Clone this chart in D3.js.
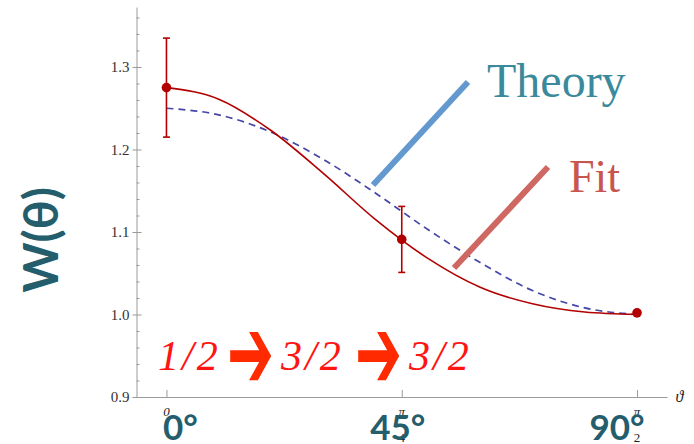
<!DOCTYPE html>
<html>
<head>
<meta charset="utf-8">
<script src="https://cdn.jsdelivr.net/npm/d3@7"></script>
<style>
  body { margin: 0; background: #fff; }
  svg { display: block; }
</style>
</head>
<body>
<svg id="chart" width="694" height="444"></svg>
<script>
// measured points (angle in degrees, W and error)
const pointAngles = [0, 45, 90];
const pointValues = [1.275, 1.091, 1.002];
const pointErrors = [0.06, 0.04, 0];

// curves, every 10 degrees
const curveAngles = [0, 10, 20, 30, 40, 50, 60, 70, 80, 90];
const fitValues = [1.275, 1.261, 1.223, 1.171, 1.115, 1.068, 1.033, 1.013, 1.003, 1.0];
const theoryValues = [1.25, 1.242, 1.221, 1.188, 1.147, 1.103, 1.063, 1.029, 1.008, 1.0];

const yMajor = [0.9, 1.0, 1.1, 1.2, 1.3];
const yMinor = d3.range(0.92, 1.37, 0.02).map(v => +v.toFixed(2)).filter(v => !yMajor.includes(v));
const xTicks = [0, 45, 90];
const degLabels = ['0°', '45°', '90°'];
const piLabels = [['0', ''], ['π', '4'], ['π', '2']];
const spins = ['1/2', '3/2', '3/2'];

const svg = d3.select('#chart');

const x = d3.scaleLinear().domain([-5.73, 95.73]).range([136.5, 667]);
const y = d3.scaleLinear().domain([0.9, 1.3727]).range([397, 7]);

const axisColor = '#9a9a9a';

// y axis
const yAx = svg.append('g').attr('transform', 'translate(136.5,0)');
yAx.call(d3.axisLeft(y).tickValues(yMinor).tickSize(-3).tickSizeOuter(0).tickFormat(''));
const yMaj = svg.append('g').attr('transform', 'translate(136.5,0)')
  .call(d3.axisLeft(y).tickValues(yMajor).tickSize(-5).tickSizeOuter(0).tickPadding(7).tickFormat(d3.format('.1f')));
yMaj.selectAll('.tick line').attr('x1', -4);
yMaj.selectAll('.domain').remove();
yMaj.selectAll('text')
  .attr('font-family', 'Liberation Serif, serif').attr('font-size', 15).attr('fill', '#333');

// x axis
const xAx = svg.append('g').attr('transform', 'translate(0,397)')
  .call(d3.axisBottom(x).tickValues(xTicks).tickSize(-7).tickSizeOuter(0).tickFormat(''));

svg.selectAll('.domain, .tick line').attr('stroke', axisColor).attr('stroke-width', 1);

// small pi tick labels
const piG = svg.append('g')
  .attr('font-family', 'Liberation Serif, serif').attr('font-style', 'italic')
  .attr('font-size', 13).attr('fill', '#222').attr('text-anchor', 'middle');
piG.selectAll('text.num').data(xTicks).join('text')
  .attr('x', d => x(d)).attr('y', 416)
  .text((d, i) => piLabels[i][0]);
piG.selectAll('text.den').data(xTicks).join('text')
  .attr('x', d => x(d)).attr('y', 442).attr('font-style', 'normal')
  .text((d, i) => piLabels[i][1]);

svg.append('text')
  .attr('x', x(94.5) + 15).attr('y', 402)
  .attr('font-family', 'Liberation Serif, serif').attr('font-style', 'italic')
  .attr('font-size', 16).attr('fill', '#222')
  .text('ϑ');

// curves
const line = d3.line().x((d, i) => x(curveAngles[i])).y(d => y(d)).curve(d3.curveMonotoneX);

svg.append('path')
  .attr('d', line(theoryValues))
  .attr('fill', 'none').attr('stroke', '#4646a6').attr('stroke-width', 1.7)
  .attr('stroke-dasharray', '7,5');

svg.append('path')
  .attr('d', line(fitValues))
  .attr('fill', 'none').attr('stroke', '#b20000').attr('stroke-width', 1.6);

// error bars
const eb = svg.append('g').attr('stroke', '#b20000').attr('stroke-width', 1.6);
pointAngles.forEach((a, i) => {
  if (!pointErrors[i]) return;
  const lo = y(pointValues[i] - pointErrors[i]), hi = y(pointValues[i] + pointErrors[i]);
  eb.append('line').attr('x1', x(a)).attr('x2', x(a)).attr('y1', lo).attr('y2', hi);
  eb.append('line').attr('x1', x(a) - 3.5).attr('x2', x(a) + 3.5).attr('y1', lo).attr('y2', lo);
  eb.append('line').attr('x1', x(a) - 3.5).attr('x2', x(a) + 3.5).attr('y1', hi).attr('y2', hi);
});

svg.selectAll('circle.pt').data(pointValues).join('circle')
  .attr('cx', (d, i) => x(pointAngles[i])).attr('cy', d => y(d))
  .attr('r', 4.8).attr('fill', '#b20000');

// annotation pointers and labels
svg.append('line').attr('x1', 373).attr('y1', 185).attr('x2', 468).attr('y2', 82)
  .attr('stroke', '#6399cf').attr('stroke-width', 6);
svg.append('line').attr('x1', 454).attr('y1', 268).attr('x2', 548).attr('y2', 167)
  .attr('stroke', '#cf6863').attr('stroke-width', 6);

svg.append('text').attr('x', 487).attr('y', 97)
  .attr('font-family', 'Liberation Serif, serif').attr('font-size', 48).attr('fill', '#3a8a9c')
  .text('Theory');
svg.append('text').attr('x', 569).attr('y', 192)
  .attr('font-family', 'Liberation Serif, serif').attr('font-size', 46).attr('fill', '#c9554f')
  .text('Fit');

// big degree labels
const degG = svg.append('g')
  .attr('font-family', 'Lato, sans-serif').attr('font-weight', 700)
  .attr('font-size', 35).attr('fill', '#245d6c').attr('text-anchor', 'middle');
const degShift = [14, -4, -20];
degG.selectAll('text').data(xTicks).join('text')
  .attr('x', (d, i) => x(d) + degShift[i]).attr('y', 440)
  .text((d, i) => degLabels[i]);

// y axis title
svg.append('text')
  .attr('transform', 'translate(58,240) rotate(-90)')
  .attr('text-anchor', 'middle')
  .attr('font-family', 'Lato, sans-serif').attr('font-weight', 700)
  .attr('font-size', 48).attr('fill', '#245d6c')
  .text('W(θ)');

// transition label: spins and heavy arrows
const spinX = [158, 281, 409];
svg.selectAll('text.spin').data(spins).join('text')
  .attr('class', 'spin')
  .attr('x', (d, i) => spinX[i]).attr('y', 370)
  .attr('font-family', 'Liberation Serif, serif').attr('font-style', 'italic')
  .attr('font-size', 42).attr('fill', '#ff1414').attr('letter-spacing', 3)
  .text(d => d);
const arrowX = [227, 355];
svg.selectAll('text.arrow').data(arrowX).join('text')
  .attr('class', 'arrow')
  .attr('transform', d => `translate(${d},354) scale(0.8,1.45)`)
  .attr('y', 0).attr('dy', '0.33em')
  .attr('font-family', 'DejaVu Sans, sans-serif')
  .attr('font-size', 70).attr('fill', '#ff2a00')
  .text('➔');
</script>
</body>
</html>
